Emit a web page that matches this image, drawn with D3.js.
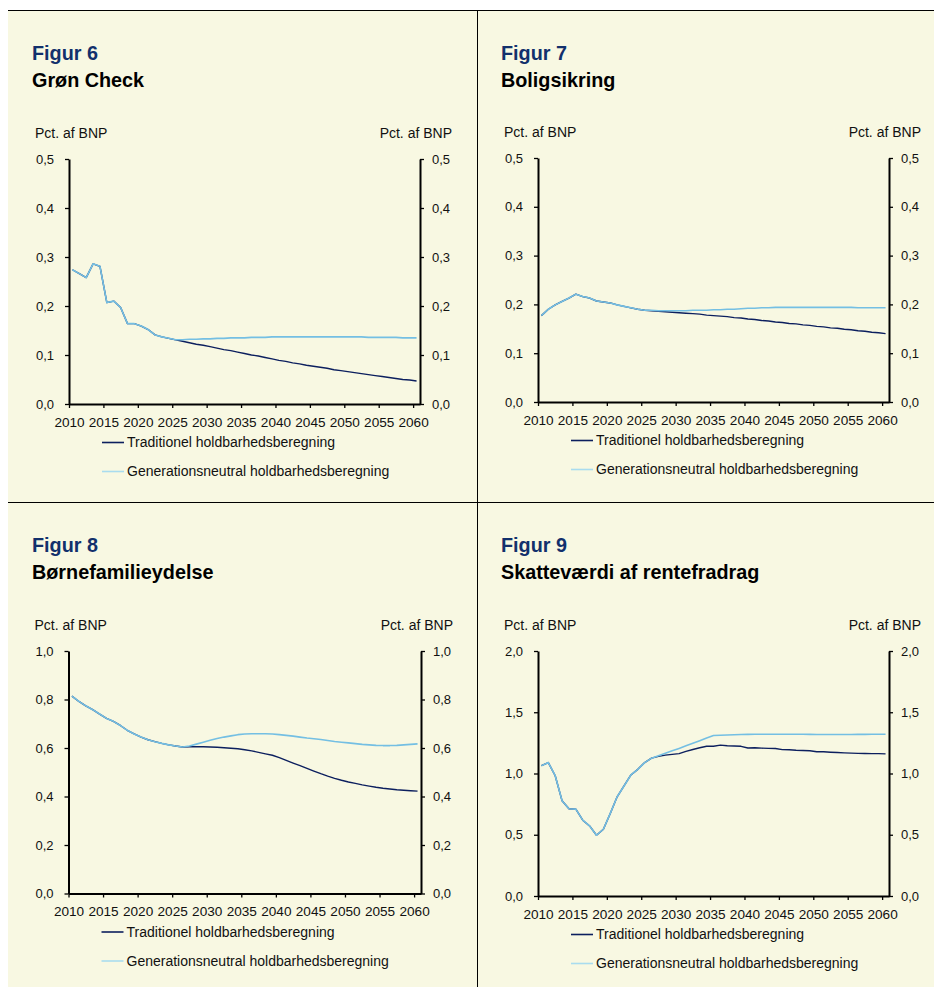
<!DOCTYPE html>
<html>
<head>
<meta charset="utf-8">
<script src="https://cdn.jsdelivr.net/npm/d3@7"></script>
<style>
  html, body { margin: 0; padding: 0; background: #ffffff; }
  svg { display: block; }
  text { font-family: "Liberation Sans", Arial, Helvetica, sans-serif; fill: #111; }
</style>
</head>
<body>
<svg id="chart" width="934" height="987"></svg>
<script>
// ---------------- DATA ----------------
const years = d3.range(2010, 2061);
const tickYears = [2010, 2015, 2020, 2025, 2030, 2035, 2040, 2045, 2050, 2055, 2060];
const figureNumbers = ["Figur 6", "Figur 7", "Figur 8", "Figur 9"];
const figureTitles = ["Grøn Check", "Boligsikring", "Børnefamilieydelse", "Skatteværdi af rentefradrag"];
const unitLabel = "Pct. af BNP";
const seriesNames = ["Traditionel holdbarhedsberegning", "Generationsneutral holdbarhedsberegning"];
const yTicks6 = [0, 0.1, 0.2, 0.3, 0.4, 0.5];
const yTicks7 = [0, 0.1, 0.2, 0.3, 0.4, 0.5];
const yTicks8 = [0, 0.2, 0.4, 0.6, 0.8, 1.0];
const yTicks9 = [0, 0.5, 1.0, 1.5, 2.0];

const gronTrad = [.274,.266,.258,.286,.281,.207,.210,.197,.164,.164,
  .159,.152,.141,.137,.134,.131,
  .128,.125,.122,.120,.117, .114,.111,.109,.106,.103, .100,.098,.095,.092,.089,
  .087,.084,.082,.079,.077, .075,.073,.070,.068,.066, .064,.062,.060,.058,.056,
  .054,.052,.050,.049,.047];
const gronGen = [.274,.266,.258,.286,.281,.207,.210,.197,.164,.164,
  .159,.152,.141,.137,.134,.131,
  .131,.132,.132,.133,.133, .134,.134,.135,.135,.135, .136,.136,.136,.137,.137,
  .137,.137,.137,.137,.137, .137,.137,.137,.137,.137, .137,.137,.136,.136,.136,
  .136,.136,.135,.135,.135];

const boligTrad = [.177,.190,.199,.206,.213,.221,.216,.213,.207,.205,
  .203,.199,.196,.193,.190,.188,
  .187,.186,.185,.184,.183, .182,.181,.180,.178,.177, .176,.175,.173,.172,.170,
  .169,.167,.166,.164,.163, .161,.160,.158,.157,.155, .154,.152,.151,.149,.148,
  .146,.145,.143,.142,.140];
const boligGen = [.177,.190,.199,.206,.213,.221,.216,.213,.207,.205,
  .203,.199,.196,.193,.190,.188,
  .188,.187,.187,.187,.187, .187,.188,.188,.188,.189, .189,.190,.190,.191,.192,
  .192,.193,.193,.194,.194, .194,.194,.194,.194,.194, .194,.194,.194,.194,.194,
  .193,.193,.193,.193,.193];

const bornTrad = [.814,.792,.774,.758,.740,.722,.710,.693,.673,.658,
  .645,.634,.626,.619,.613,.608,.604,
  .605,.605,.605,.604, .603,.601,.599,.597,.593, .588,.582,.576,.570,.560,
  .549,.538,.527,.516,.505, .494,.484,.475,.467,.460, .454,.448,.443,.438,.434,
  .431,.428,.426,.424,.422];
const bornGen = [.814,.792,.774,.758,.740,.722,.710,.693,.673,.658,
  .645,.634,.626,.619,.613,.608,.604,
  .608,.616,.624,.632, .639,.645,.650,.655,.658, .659,.659,.659,.658,.655,
  .652,.649,.645,.641,.638, .635,.631,.627,.624,.621, .618,.615,.613,.611,.610,
  .610,.611,.613,.615,.617];

const skatTrad = [1.064,1.089,.982,.777,.712,.709,.619,.572,.496,.545,
  .674,.810,.898,.988,1.034,1.089,1.125,
  1.140,1.150,1.156,1.162, 1.180,1.196,1.210,1.222,1.222, 1.232,1.226,1.224,1.222,1.208,
  1.210,1.207,1.205,1.204,1.195, 1.194,1.190,1.188,1.186,1.178, 1.177,1.174,1.171,1.168,1.166,
  1.164,1.163,1.162,1.162,1.160];
const skatGen = [1.064,1.089,.982,.777,.712,.709,.619,.572,.496,.545,
  .674,.810,.898,.988,1.034,1.089,1.125,
  1.145,1.165,1.185,1.205, 1.226,1.247,1.268,1.290,1.310, 1.312,1.314,1.316,1.318,1.319,
  1.320,1.321,1.321,1.321,1.321, 1.320,1.320,1.320,1.319,1.318, 1.318,1.318,1.318,1.318,1.318,
  1.319,1.319,1.320,1.320,1.321];

// ---------------- STYLE / LAYOUT ----------------
const BG = "#f8f8e2";
const TITLE_BLUE = "#12306c";
const C_TRAD = "#0c1f5e";
const C_GEN = "#74bfe3";
const C_GEN_LEG = "#a9dcef";
const FONT_TICK_Y = 13;
const FONT_TICK_X = 13.6;
const FONT_TXT = 14;
const FONT_TITLE = 19.8;

const svg = d3.select("#chart");
svg.append("rect").attr("x", 8).attr("y", 10).attr("width", 926).attr("height", 977).attr("fill", BG);
// frame lines
svg.append("line").attr("x1", 8).attr("x2", 934).attr("y1", 10.5).attr("y2", 10.5).attr("stroke", "#000").attr("stroke-width", 1);
svg.append("line").attr("x1", 8).attr("x2", 934).attr("y1", 502.5).attr("y2", 502.5).attr("stroke", "#000").attr("stroke-width", 1);
svg.append("line").attr("x1", 477.5).attr("x2", 477.5).attr("y1", 10).attr("y2", 987).attr("stroke", "#000").attr("stroke-width", 1);

const decFmt = d3.formatLocale({decimal: ",", thousands: ".", grouping: [3], currency: ["", " kr."]}).format(".1f");

const panels = [
  {num: figureNumbers[0], title: figureTitles[0], trad: gronTrad, gen: gronGen, ticks: yTicks6, col: 0, left: 69, right: 420, top: 159, bottom: 404},
  {num: figureNumbers[1], title: figureTitles[1], trad: boligTrad, gen: boligGen, ticks: yTicks7, col: 1, left: 538, right: 889, top: 158, bottom: 402},
  {num: figureNumbers[2], title: figureTitles[2], trad: bornTrad, gen: bornGen, ticks: yTicks8, col: 0, left: 68.5, right: 421, top: 651, bottom: 893.5},
  {num: figureNumbers[3], title: figureTitles[3], trad: skatTrad, gen: skatGen, ticks: yTicks9, col: 1, left: 538, right: 889, top: 651, bottom: 896}
];

panels.forEach((p, i) => {
  const row = i < 2 ? 0 : 1;
  const tx = 32 + p.col * 469;
  const ty = row * 492;
  const g = svg.append("g");

  g.append("text").attr("x", tx).attr("y", 60 + ty).attr("font-size", FONT_TITLE).attr("font-weight", "bold")
    .style("fill", TITLE_BLUE).text(p.num);
  g.append("text").attr("x", tx).attr("y", 87 + ty).attr("font-size", FONT_TITLE).attr("font-weight", "bold")
    .style("fill", "#000").text(p.title);

  g.append("text").attr("x", p.left - 34).attr("y", p.top - 21).attr("font-size", FONT_TXT).text(unitLabel);
  g.append("text").attr("x", p.right + 32).attr("y", p.top - 21).attr("font-size", FONT_TXT)
    .attr("text-anchor", "end").text(unitLabel);

  const x = d3.scaleLinear().domain([2010, 2061]).range([p.left, p.right]);
  const y = d3.scaleLinear().domain([0, d3.max(p.ticks)]).range([p.bottom, p.top]);

  const axL = g.append("g").attr("transform", `translate(${p.left},0)`)
    .call(d3.axisLeft(y).tickValues(p.ticks).tickFormat(decFmt).tickSize(4).tickSizeOuter(0).tickPadding(11));
  const axR = g.append("g").attr("transform", `translate(${p.right},0)`)
    .call(d3.axisRight(y).tickValues(p.ticks).tickFormat(decFmt).tickSize(4).tickSizeOuter(0).tickPadding(8));
  const axB = g.append("g").attr("transform", `translate(0,${p.bottom})`)
    .call(d3.axisBottom(x).tickValues(tickYears).tickFormat(d3.format("d")).tickSize(4).tickSizeOuter(0).tickPadding(9));

  [[axL, FONT_TICK_Y], [axR, FONT_TICK_Y], [axB, FONT_TICK_X]].forEach(([ax, fs]) => {
    ax.select(".domain").attr("stroke", "#000").attr("stroke-width", 2);
    ax.selectAll(".tick line").attr("stroke", "#000").attr("stroke-width", 1.3);
    ax.selectAll(".tick text").attr("font-size", fs)
      .attr("font-family", "Liberation Sans, Arial, sans-serif").style("fill", "#111");
  });

  const line = d3.line().x((d, k) => x(years[k] + 0.5)).y(d => y(d));
  g.append("path").datum(p.trad).attr("d", line).attr("fill", "none")
    .attr("stroke", C_TRAD).attr("stroke-width", 1.4).attr("stroke-linejoin", "round");
  g.append("path").datum(p.gen).attr("d", line).attr("fill", "none")
    .attr("stroke", C_GEN).attr("stroke-width", 1.6).attr("stroke-linejoin", "round");

  // legend
  const lx = p.left + 33;
  [[C_TRAD, seriesNames[0], 38.5], [C_GEN_LEG, seriesNames[1], 67.5]].forEach(([c, name, dy]) => {
    g.append("line").attr("x1", lx).attr("x2", lx + 22).attr("y1", p.bottom + dy).attr("y2", p.bottom + dy)
      .attr("stroke", c).attr("stroke-width", 1.6);
    g.append("text").attr("x", lx + 25).attr("y", p.bottom + dy + 4.5).attr("font-size", FONT_TXT).text(name);
  });
});
</script>
</body>
</html>
